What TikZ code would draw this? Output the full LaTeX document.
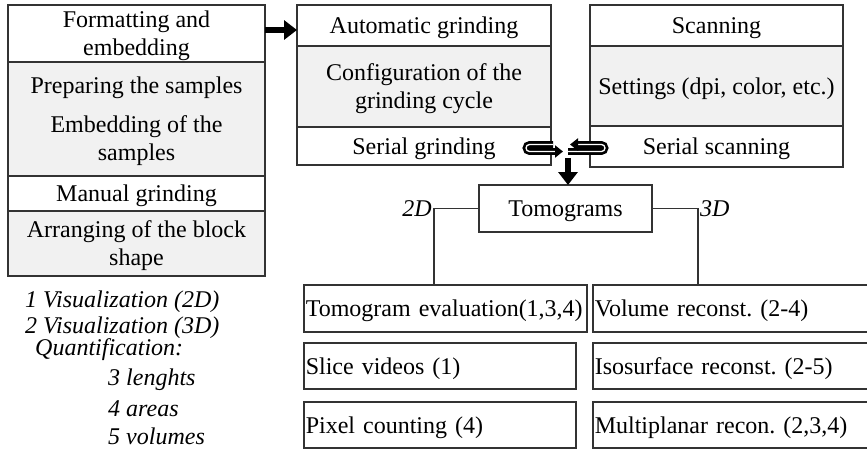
\documentclass[tikz,border=0pt]{standalone}
\usepackage{fontspec}
\setmainfont{Liberation Serif}
\usetikzlibrary{arrows.meta,positioning}
\definecolor{secgray}{HTML}{F1F1F1}
\definecolor{edgegray}{HTML}{333333}
\frenchspacing

\begin{document}
\begin{tikzpicture}[
  x=1pt, y=-1pt,
  every node/.style={font=\fontsize{24}{28}\selectfont},
  sec/.style={draw=edgegray, line width=1.6pt, inner sep=2pt, outer sep=0pt, text depth=0pt, align=center, minimum width=#1},
  shaded/.style={fill=secgray},
  res/.style={draw=edgegray, line width=1.6pt, inner sep=2pt, text depth=0pt, anchor=north west, align=left, text width=#1},
  note/.style={font=\fontsize{24}{28}\selectfont\itshape, inner sep=0pt, anchor=base west},
  link/.style={draw=edgegray, line width=1.6pt},
  bigarrow/.style={line width=6pt, -{Triangle[length=13pt, width=19pt]}},
  swaparrow/.style={line width=2.7pt, double=white, double distance=1.3pt, rounded corners=3.5pt, -{Triangle[length=8pt, width=12pt]}}
]
\useasboundingbox (0,0) rectangle (867,450);
\clip (0,0) rectangle (867,450);

\node[sec=257pt, minimum height=57pt] (fmt) at (136.5,33.5) {Formatting and\\embedding};
\node[sec=257pt, shaded, minimum height=114pt, below=0pt of fmt] (prep) {Preparing the samples\\[11pt]Embedding of the\\samples};
\node[sec=257pt, minimum height=35pt, below=0pt of prep] (manual) {Manual grinding};
\node[sec=257pt, shaded, minimum height=65pt, below=0pt of manual] (block) {Arranging of the block\\shape};

\node[sec=254pt, minimum height=41pt] (auto) at (424,25.5) {Automatic grinding};
\node[sec=254pt, shaded, minimum height=81pt, below=0pt of auto] (config) {Configuration of the\\grinding cycle};
\node[sec=254pt, minimum height=38pt, below=0pt of config] (sgrind) {Serial grinding};

\node[sec=253pt, minimum height=41pt] (scan) at (716.5,25.5) {Scanning};
\node[sec=253pt, shaded, minimum height=80pt, below=0pt of scan] (settings) {Settings (dpi, color, etc.)};
\node[sec=253pt, minimum height=41pt, below=0pt of settings] (sscan) {Serial scanning};

\node[sec=173pt, minimum height=47pt] (tomo) at (565.5,208.5) {Tomograms};

\node[res=279pt, minimum height=47pt] (eval) at (303,284) {Tomogram evaluation(1,3,4)};
\node[res=268pt, minimum height=46pt] (slice) at (303,342) {Slice videos (1)};
\node[res=268pt, minimum height=46pt] (pixel) at (303,401) {Pixel counting (4)};
\node[res=279pt, minimum height=47pt] (volume) at (592,284) {Volume reconst. (2-4)};
\node[res=279pt, minimum height=46pt] (iso) at (592,342) {Isosurface reconst. (2-5)};
\node[res=279pt, minimum height=46pt] (multi) at (592,401) {Multiplanar recon. (2,3,4)};

\node[note] (v2d) at (25,307) {1 Visualization (2D)};
\node[note] (v3d) at (25,333) {2 Visualization (3D)};
\node[note] (quant) at (35,355) {Quantification:};
\node[note] (len) at (108,385) {3 lenghts};
\node[note] (area) at (108,416) {4 areas};
\node[note] (vol) at (108,444) {5 volumes};

\coordinate (aim) at ([yshift=-4.5pt]auto.west);
\draw[bigarrow] (fmt.east |- aim) -- (aim);

\draw[swaparrow] (553,144.5) -- (526,144.5) -- (526,151.5) -- (563,151.5);
\draw[swaparrow] (568,151.5) -- (605,151.5) -- (605,144.5) -- (570,144.5);
\coordinate (swap) at (568,158);
\draw[bigarrow] (swap) -- (swap |- tomo.north);

\coordinate (k2) at (434,208.5);
\coordinate (k3) at (698,208.5);
\draw[link] (tomo.west) -- (k2) -- (k2 |- eval.north);
\draw[link] (tomo.east) -- (k3) -- (k3 |- volume.north);
\node[note, anchor=east] at ([xshift=-2pt]k2) {2D};
\node[note, anchor=west] at ([xshift=2pt]k3) {3D};
\end{tikzpicture}
\end{document}
